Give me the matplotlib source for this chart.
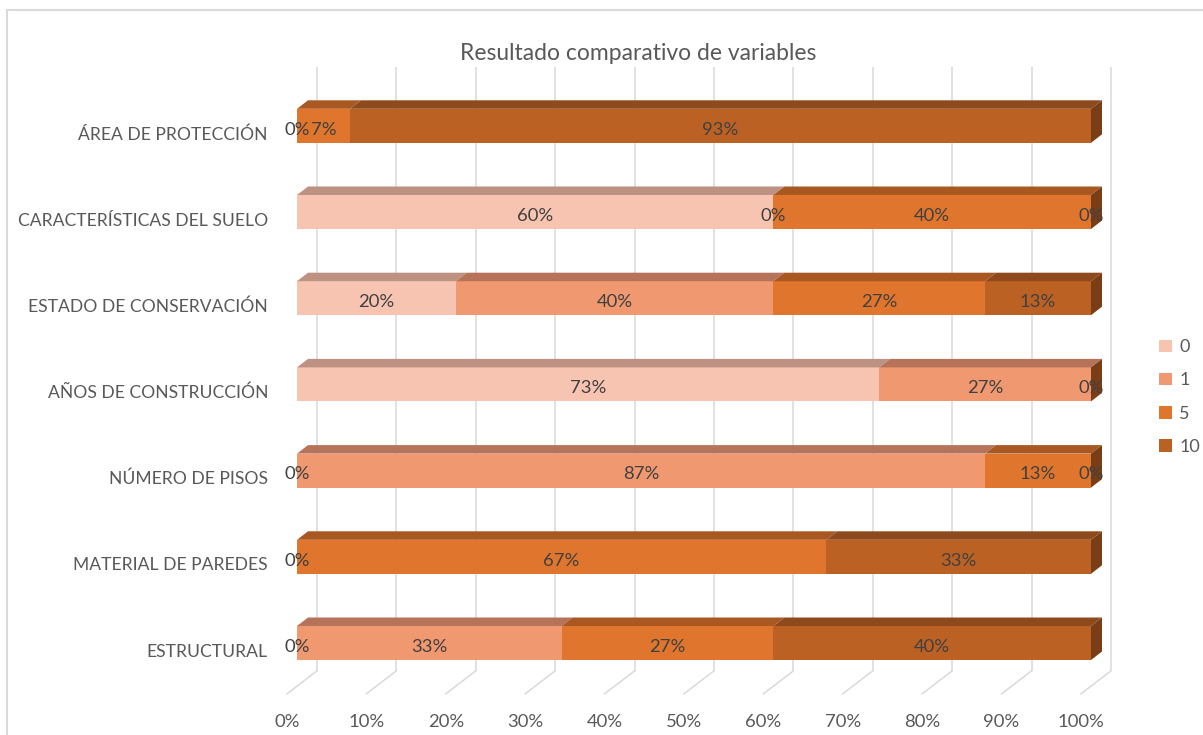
import matplotlib
matplotlib.use("Agg")
import matplotlib.pyplot as plt
from matplotlib.patches import Polygon, Rectangle, Patch

plt.rcParams['font.family'] = ['Lato', 'DejaVu Sans']

# ---- data (bottom row first) ----
categories = ["ESTRUCTURAL", "MATERIAL DE PAREDES", "NÚMERO DE PISOS",
              "AÑOS DE CONSTRUCCIÓN", "ESTADO DE CONSERVACIÓN",
              "CARACTERÍSTICAS DEL SUELO", "ÁREA DE PROTECCIÓN"]
series_names = ["0", "1", "5", "10"]
# counts out of 15 responses per variable
s0 = [0, 0, 0, 11, 3, 9, 0]
s1 = [5, 0, 13, 4, 6, 0, 0]
s5 = [4, 10, 2, 0, 4, 6, 1]
s10 = [6, 5, 0, 0, 2, 0, 14]
xticks = [0, 10, 20, 30, 40, 50, 60, 70, 80, 90, 100]
title = "Resultado comparativo de variables"

front = ["#F6C4B1", "#F0986F", "#E0752D", "#BC6124"]
topc = ["#BD9283", "#B7735A", "#A85820", "#8E4A1D"]
side_c = "#7A3E17"
grid_c = "#D9D9D9"

W, H = 1203, 735
fig = plt.figure(figsize=(W / 100, H / 100), dpi=100)
# axes: x 0..100 -> px 297..1091, y -0.5..6.5 -> px 686..83
ax = fig.add_axes([297 / W, 1 - 686.1 / H, 794 / W, (686.1 - 82.7) / H])
ax.set_xlim(0, 100)
ax.set_ylim(-0.5, 6.5)
ax.axis("off")

PX = 7.94   # px per %
PY = 86.2   # px per row
DX, DY = 11 / PX, 8.5 / PY          # bar depth
BX, BY = 20 / PX, 15.3 / PY          # back wall offset
FX, FY = -10 / PX, -7.7 / PY         # floor front offset
HH = 17 / PY                         # half bar height

# gridlines on back wall + floor
for t in xticks:
    ax.plot([t + BX, t + BX], [-0.5 + BY, 6.5 + BY], color=grid_c, lw=1.1,
            zorder=1, clip_on=False, solid_capstyle="butt")
    ax.plot([t + BX, t + FX], [-0.5 + BY, -0.5 + FY], color=grid_c, lw=1.1,
            zorder=1, clip_on=False)
    ax.text(t + FX, -0.5 + (-36 / PY), f"{t}%", ha="center", va="center",
            fontsize=13.3, color="#595959", clip_on=False)

series = [s0, s1, s5, s10]
for i, cat in enumerate(categories):
    total = sum(s[i] for s in series)
    left = 0.0
    y0, y1 = i - HH, i + HH
    placed = set()
    for k, s in enumerate(series):
        w = 100.0 * s[i] / total
        x0, x1 = left, left + w
        if w > 0:
            ax.add_patch(Polygon([(x0, y0), (x1, y0), (x1, y1), (x0, y1)],
                                 closed=True, facecolor=front[k], edgecolor="none",
                                 zorder=3, clip_on=False))
            ax.add_patch(Polygon([(x0, y1), (x1, y1), (x1 + DX, y1 + DY), (x0 + DX, y1 + DY)],
                                 closed=True, facecolor=topc[k], edgecolor="none",
                                 zorder=3, clip_on=False))
        lbl = f"{round(100 * s[i] / total)}%"
        key = (round((x0 + x1) / 2, 3), lbl)
        if key not in placed:
            placed.add(key)
            ax.text((x0 + x1) / 2, i - 0.045, lbl,
                    ha="center", va="center", fontsize=13.3, color="#404040",
                    zorder=5, clip_on=False)
        left = x1
    # right side face
    ax.add_patch(Polygon([(100, y0), (100 + DX, y0 + DY), (100 + DX, y1 + DY), (100, y1)],
                         closed=True, facecolor=side_c, edgecolor="none",
                         zorder=3, clip_on=False))
    ax.text(-29 / PX, i - 0.1, cat, ha="right", va="center", fontsize=12.6,
            color="#595959", clip_on=False)

fig.text(638 / W, 1 - 53 / H, title, ha="center", va="center",
         fontsize=16.5, color="#595959")

handles = [Patch(facecolor=c, edgecolor="none") for c in front]
fig.legend(handles, series_names, loc="center left",
           bbox_to_anchor=(1143 / W, 1 - 397 / H), frameon=False,
           fontsize=13, handlelength=0.7, handleheight=0.7,
           handletextpad=0.4, labelspacing=0.95, labelcolor="#595959")

# chart border
fig.patches.append(Rectangle((7 / W, -0.1), 1.1, 1 - 10 / H + 0.1,
                             transform=fig.transFigure, fill=False,
                             edgecolor=grid_c, lw=1.5))

fig.savefig("out.png", dpi=100)
